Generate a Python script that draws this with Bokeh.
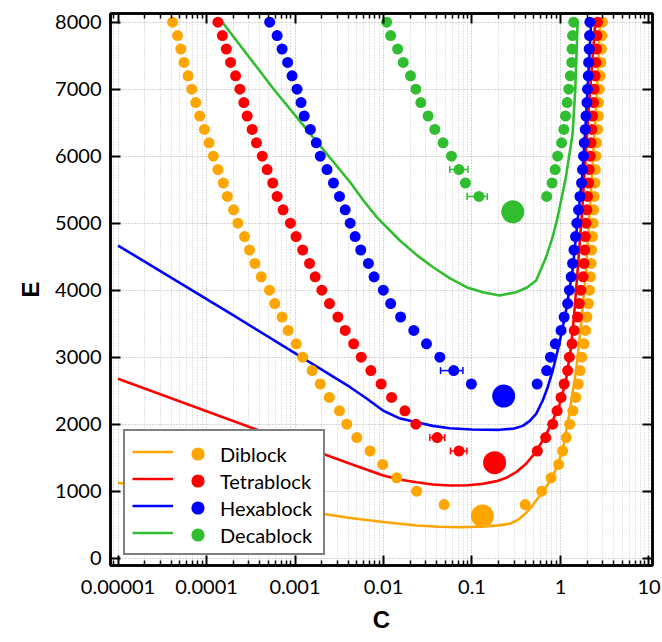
from bokeh.plotting import figure
from bokeh.models import (Range1d, FixedTicker, LinearAxis, LogAxis, Legend, LegendItem,
                          ColumnDataSource, Whisker, TeeHead)
from bokeh.embed import file_html
from bokeh.resources import INLINE

# ---------------- data ----------------
series_names = ["Diblock", "Tetrablock", "Hexablock", "Decablock"]
series_colors = ["#FFA500", "#FF0000", "#0000FF", "#30BE30"]

# Diblock
di_E_left = [8000, 7800, 7600, 7400, 7200, 7000, 6800, 6600, 6400, 6200, 6000, 5800, 5600, 5400,
             5200, 5000, 4800, 4600, 4400, 4200, 4000, 3800, 3600, 3400, 3200, 3000, 2800, 2600,
             2400, 2200, 2000, 1800, 1600, 1400, 1200, 1000, 800]
di_C_left = [4.13e-5, 4.70e-5, 5.12e-5, 5.57e-5, 6.18e-5, 6.81e-5, 7.55e-5, 8.38e-5, 9.46e-5,
             1.067e-4, 1.194e-4, 1.345e-4, 1.55e-4, 1.72e-4, 2.02e-4, 2.26e-4, 2.69e-4, 3.06e-4,
             3.52e-4, 4.15e-4, 5.14e-4, 5.90e-4, 7.14e-4, 8.36e-4, 1.035e-3, 1.22e-3, 1.56e-3,
             1.93e-3, 2.44e-3, 3.18e-3, 3.85e-3, 4.99e-3, 7.05e-3, 9.8e-3, 1.41e-2, 2.37e-2, 4.84e-2]
di_E_right = [800, 1000, 1200, 1400, 1600, 1800, 2000, 2200, 2400, 2600, 2800, 3000, 3200, 3400,
              3600, 3800, 4000, 4200, 4400, 4600, 4800, 5000, 5200, 5400, 5600, 5800, 6000, 6200,
              6400, 6600, 6800, 7000, 7200, 7400, 7600, 7800, 8000]
di_C_right = [0.399, 0.614, 0.783, 0.953, 1.057, 1.164, 1.27, 1.38, 1.49, 1.59, 1.67, 1.74, 1.84,
              1.92, 1.99, 2.07, 2.13, 2.18, 2.22, 2.25, 2.30, 2.34, 2.37, 2.40, 2.45, 2.47, 2.51,
              2.55, 2.62, 2.67, 2.69, 2.74, 2.81, 2.86, 2.90, 2.94, 2.98]
di_line_C = [1.0e-5, 4.2e-3, 9.95e-3, 2.37e-2, 4.2e-2, 7.26e-2, 0.14, 0.2, 0.265, 0.33, 0.399,
             0.46, 0.531, 0.66, 0.817, 1.057, 1.26, 1.50, 1.70, 1.94, 2.22, 2.54, 2.81]
di_line_E = [1125, 600, 540, 488, 470, 463, 472, 490, 513, 570, 663, 750, 861, 1030, 1209, 1607,
             2155, 2801, 3448, 4294, 5500, 6800, 8000]

# Tetrablock
te_E_left = [8000, 7800, 7600, 7400, 7200, 7000, 6800, 6600, 6400, 6200, 6000, 5800, 5600, 5400,
             5200, 5000, 4800, 4600, 4400, 4200, 4000, 3800, 3600, 3400, 3200, 3000, 2800, 2600,
             2400, 2200, 2000, 1800, 1600]
te_C_left = [1.345e-4, 1.51e-4, 1.675e-4, 1.87e-4, 2.13e-4, 2.38e-4, 2.64e-4, 2.88e-4, 3.28e-4,
             3.67e-4, 4.26e-4, 4.84e-4, 5.60e-4, 6.28e-4, 7.33e-4, 8.87e-4, 1.028e-3, 1.22e-3,
             1.46e-3, 1.69e-3, 2.01e-3, 2.45e-3, 3.05e-3, 3.69e-3, 4.6e-3, 5.6e-3, 7.2e-3,
             9.4e-3, 1.235e-2, 1.745e-2, 2.32e-2, 4.04e-2, 7.13e-2]
te_E_right = [1600, 1800, 2000, 2200, 2400, 2600, 2800, 3000, 3200, 3400, 3600, 3800, 4000, 4200,
              4400, 4600, 4800, 5000, 5200, 5400, 5600, 5800, 6000, 6200, 6400, 6600, 6800, 7000,
              7200, 7400, 7600, 7800, 8000]
te_C_right = [0.548, 0.681, 0.817, 0.916, 1.014, 1.10, 1.205, 1.26, 1.35, 1.43, 1.56, 1.63, 1.70,
              1.80, 1.84, 1.88, 1.905, 1.94, 1.99, 2.02, 2.08, 2.11, 2.17, 2.21, 2.26, 2.30, 2.36,
              2.40, 2.47, 2.51, 2.55, 2.58, 2.62]
te_line_C = [1.0e-5, 4.2e-3, 6.5e-3, 9.95e-3, 1.5e-2, 2.37e-2, 3.6e-2, 5.61e-2, 0.09, 0.133, 0.19,
             0.244, 0.32, 0.409, 0.5, 0.630, 0.72, 0.817, 0.970, 1.153, 1.315, 1.43, 1.56, 1.76,
             2.06, 2.47]
te_line_E = [2677, 1409, 1320, 1234, 1175, 1134, 1100, 1085, 1088, 1110, 1150, 1200, 1290, 1409,
             1550, 1757, 1900, 2055, 2280, 2652, 3149, 3647, 4294, 5200, 6600, 8000]

# Hexablock
hx_E_left = [8000, 7800, 7600, 7400, 7200, 7000, 6800, 6600, 6400, 6200, 6000, 5800, 5600, 5400,
             5200, 5000, 4800, 4600, 4400, 4200, 4000, 3800, 3600, 3400, 3200, 3000, 2800, 2600]
hx_C_left = [5.17e-4, 6.28e-4, 7.14e-4, 8.26e-4, 9.27e-4, 1.054e-3, 1.17e-3, 1.27e-3, 1.49e-3,
             1.74e-3, 1.93e-3, 2.30e-3, 2.72e-3, 3.18e-3, 3.69e-3, 4.20e-3, 4.78e-3, 5.53e-3,
             6.75e-3, 7.82e-3, 9.95e-3, 1.205e-2, 1.56e-2, 2.20e-2, 3.06e-2, 4.33e-2, 6.22e-2,
             9.84e-2]
hx_E_right = [2600, 2800, 3000, 3200, 3400, 3600, 3800, 4000, 4200, 4400, 4600, 4800, 5000, 5200,
              5400, 5600, 5800, 6000, 6200, 6400, 6600, 6800, 7000, 7200, 7400, 7600, 7800, 8000]
hx_C_right = [0.545, 0.698, 0.769, 0.875, 1.014, 1.10, 1.205, 1.26, 1.32, 1.37, 1.42, 1.48, 1.53,
              1.60, 1.66, 1.73, 1.775, 1.82, 1.855, 1.905, 1.94, 1.99, 2.02, 2.06, 2.08, 2.11,
              2.13, 2.15]
hx_line_C = [1.0e-5, 2.04e-4, 4.2e-3, 6.5e-3, 9.95e-3, 1.5e-2, 2.37e-2, 3.6e-2, 5.61e-2, 0.1,
             0.205, 0.3, 0.375, 0.45, 0.531, 0.630, 0.72, 0.817, 0.970, 1.153, 1.37, 1.55, 1.76,
             1.95, 2.22]
hx_line_E = [4667, 3620, 2552, 2380, 2200, 2090, 2030, 1975, 1940, 1920, 1916, 1935, 1975, 2050,
             2155, 2354, 2560, 2800, 3200, 3690, 4300, 5000, 5700, 6600, 8000]

# Decablock
de_E_left = [8000, 7800, 7600, 7400, 7200, 7000, 6800, 6600, 6400, 6200, 6000, 5800, 5600, 5400]
de_C_left = [1.086e-2, 1.205e-2, 1.445e-2, 1.67e-2, 2.02e-2, 2.32e-2, 2.64e-2, 3.19e-2, 3.80e-2,
             4.71e-2, 5.86e-2, 7.13e-2, 8.43e-2, 0.120]
de_E_right = [5400, 5600, 5800, 6000, 6200, 6400, 6600, 6800, 7000, 7200, 7400, 7600, 7800, 8000]
de_C_right = [0.698, 0.804, 0.869, 0.929, 1.03, 1.09, 1.14, 1.19, 1.24, 1.29, 1.34, 1.35, 1.37, 1.41]
de_line_C = [1.51e-4, 5.75e-4, 1.49e-3, 4.2e-3, 5.93e-3, 8.39e-3, 1.53e-2, 2.4e-2, 3.64e-2,
             5.6e-2, 8.65e-2, 0.133, 0.205, 0.316, 0.42, 0.531, 0.687, 0.81, 0.929, 1.15, 1.37,
             1.47, 1.56]
de_line_E = [8000, 7000, 6334, 5612, 5339, 5090, 4742, 4520, 4343, 4180, 4045, 3970, 3921, 3970,
             4040, 4145, 4493, 4780, 5090, 5687, 6334, 7000, 8000]

# critical points (large dots)
crit_C = [0.131, 0.180, 0.228, 0.289]
crit_E = [630, 1425, 2420, 5170]

# horizontal error bars
te_err_E = [1800, 1600]
te_err_lo = [0.0334, 0.0571]
te_err_hi = [0.0492, 0.0877]
hx_err_E = [2800]
hx_err_lo = [0.0441]
hx_err_hi = [0.079]
de_err_E = [5800, 5400]
de_err_lo = [0.0561, 0.0879]
de_err_hi = [0.0902, 0.149]

# axis ticks
x_tick_values = [1e-5, 1e-4, 1e-3, 1e-2, 1e-1, 1.0, 10.0]
x_tick_labels = ["0.00001", "0.0001", "0.001", "0.01", "0.1", "1", "10"]
y_tick_values = [0, 1000, 2000, 3000, 4000, 5000, 6000, 7000, 8000]

# ---------------- figure ----------------
FONT = "Lato"
p = figure(width=662, height=642, x_axis_type="log",
           x_range=Range1d(8.22e-6, 10.96), y_range=Range1d(-109, 8130),
           output_backend="svg", toolbar_location=None,
           min_border_left=110, min_border_right=10, min_border_top=13, min_border_bottom=77)
p.background_fill_color = "white"
p.border_fill_color = "white"
p.outline_line_color = "black"
p.outline_line_width = 2.5

x_minor = [m * 10.0 ** k for k in range(-6, 2) for m in range(2, 10)]
xt = FixedTicker(ticks=x_tick_values, minor_ticks=x_minor)
yt = FixedTicker(ticks=y_tick_values, minor_ticks=[])

bottom = p.below[0]
left = p.left[0]
bottom.ticker = xt
left.ticker = yt
bottom.major_label_overrides = {v: s for v, s in zip(x_tick_values, x_tick_labels)}
bottom.axis_label = "C"
left.axis_label = "E"

top_ax = LogAxis(ticker=FixedTicker(ticks=x_tick_values, minor_ticks=x_minor))
right_ax = LinearAxis(ticker=FixedTicker(ticks=y_tick_values, minor_ticks=[]))
p.add_layout(top_ax, "above")
p.add_layout(right_ax, "right")

for ax in [bottom, left, top_ax, right_ax]:
    ax.axis_line_width = 2.5
    ax.axis_line_color = "black"
    ax.major_tick_in = 10
    ax.major_tick_out = 0
    ax.minor_tick_in = 5
    ax.minor_tick_out = 0
    ax.major_tick_line_width = 2
    ax.minor_tick_line_width = 1.5
    ax.major_tick_line_color = "black"
    ax.minor_tick_line_color = "black"
    ax.major_label_text_font = FONT
    ax.major_label_text_font_size = "20px"
    ax.major_label_text_color = "black"
    ax.axis_label_text_font = "Liberation Sans"
    ax.axis_label_text_font_style = "bold"
    ax.axis_label_text_font_size = "24px"
    ax.axis_label_text_color = "black"

for ax in [top_ax, right_ax]:
    ax.major_label_text_font_size = "1px"
    ax.major_label_text_color = None
    ax.major_label_standoff = 0

bottom.major_label_standoff = 14
left.major_label_standoff = 9
bottom.axis_label_standoff = 9
left.axis_label_standoff = 8

p.xgrid.ticker = xt
p.ygrid.ticker = yt
p.xgrid.grid_line_color = "#aaaaaa"
p.xgrid.grid_line_dash = "1 2"
p.xgrid.grid_line_width = 1
p.xgrid.minor_grid_line_color = "#c8c8c8"
p.xgrid.minor_grid_line_dash = "1 2"
p.ygrid.grid_line_color = "#aaaaaa"
p.ygrid.grid_line_dash = "1 2"

# ---------------- glyphs ----------------
series = [
    (di_line_C, di_line_E, di_C_left, di_E_left, di_C_right, di_E_right),
    (te_line_C, te_line_E, te_C_left, te_E_left, te_C_right, te_E_right),
    (hx_line_C, hx_line_E, hx_C_left, hx_E_left, hx_C_right, hx_E_right),
    (de_line_C, de_line_E, de_C_left, de_E_left, de_C_right, de_E_right),
]
line_rs = []
dot_rs = []
for (lc, le, cl, el, cr, er), col in zip(series, series_colors):
    lr = p.line(lc, le, line_color=col, line_width=2.6)
    line_rs.append(lr)
for (lc, le, cl, el, cr, er), col in zip(series, series_colors):
    dr = p.scatter(cl + cr, el + er, size=11, fill_color=col, line_color=None)
    dot_rs.append(dr)

errs = [(te_err_E, te_err_lo, te_err_hi, series_colors[1]),
        (hx_err_E, hx_err_lo, hx_err_hi, series_colors[2]),
        (de_err_E, de_err_lo, de_err_hi, series_colors[3])]
for e, lo, hi, col in errs:
    src = ColumnDataSource(dict(base=e, lower=lo, upper=hi))
    w = Whisker(source=src, base="base", lower="lower", upper="upper", dimension="width",
                line_color=col, line_width=1.5, level="glyph",
                upper_head=TeeHead(size=7, line_color=col, line_width=1.5),
                lower_head=TeeHead(size=7, line_color=col, line_width=1.5))
    p.add_layout(w)

for c, e, col in zip(crit_C, crit_E, series_colors):
    p.scatter([c], [e], size=23, fill_color=col, line_color=None)

# ---------------- legend ----------------
# framed legend with line samples
leg_lines = Legend(items=[LegendItem(label="-", renderers=[r]) for r in line_rs],
                   location=(13, 10), orientation="vertical",
                   glyph_width=41, glyph_height=27, spacing=0, padding=7,
                   label_standoff=0, label_width=143, label_height=20,
                   label_text_font_size="10px", label_text_color=None,
                   border_line_color="black", border_line_width=2.5,
                   background_fill_color="white", background_fill_alpha=1.0, margin=0)
p.add_layout(leg_lines)
# dot samples and labels, one row each
row_offsets = [95, 68, 41, 14]
for name, r, yoff in zip(series_names, dot_rs, row_offsets):
    lg = Legend(items=[LegendItem(label=name, renderers=[r])],
                location=(71, yoff), orientation="vertical",
                glyph_width=33, glyph_height=33, spacing=0, padding=0,
                label_standoff=6, label_height=20,
                label_text_font=FONT, label_text_font_size="20px", label_text_color="black",
                border_line_color=None, background_fill_alpha=0.0, margin=0)
    p.add_layout(lg)

open("out.html", "w").write(file_html(p, INLINE))
